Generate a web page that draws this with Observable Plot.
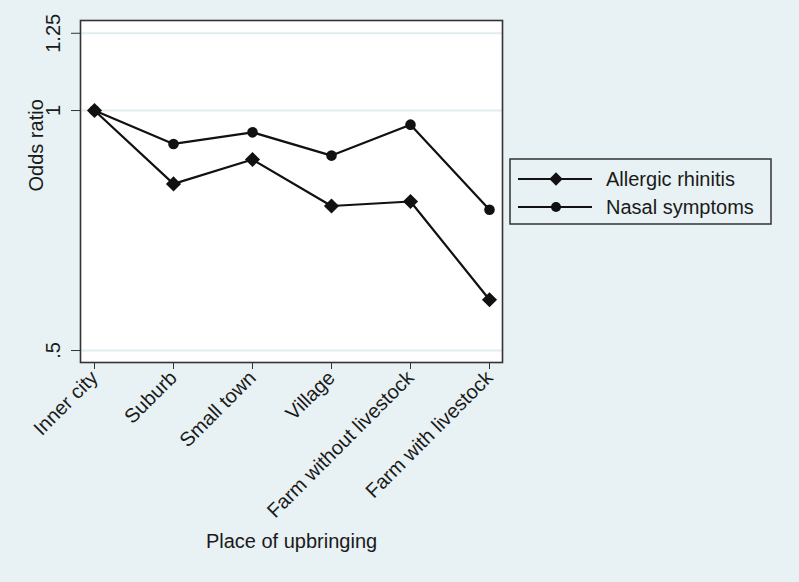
<!DOCTYPE html>
<html>
<head>
<meta charset="utf-8">
<script src="https://cdn.jsdelivr.net/npm/d3@7"></script>
<script src="https://cdn.jsdelivr.net/npm/@observablehq/plot@0.6"></script>
<style>
  html, body { margin: 0; padding: 0; background: #e8f1f3; }
  #wrap { position: relative; width: 799px; height: 582px; background: #e8f1f3; overflow: hidden; }
  #wrap svg { position: absolute; left: 0; top: 0; }
</style>
</head>
<body>
<div id="wrap"></div>
<script>
const categories = ["Inner city", "Suburb", "Small town", "Village", "Farm without livestock", "Farm with livestock"];
const allergicRhinitis = [1.0, 0.809, 0.868, 0.759, 0.769, 0.579];
const nasalSymptoms = [1.0, 0.908, 0.939, 0.878, 0.960, 0.751];
const seriesNames = ["Allergic rhinitis", "Nasal symptoms"];
const seriesSymbols = ["diamond2", "circle"];
const yTicks = [0.5, 1, 1.25];
const yTickLabels = [".5", "1", "1.25"];
const xTitle = "Place of upbringing";
const yTitle = "Odds ratio";

const rows = [];
categories.forEach((c, i) => {
  rows.push({cat: c, series: seriesNames[0], v: allergicRhinitis[i]});
  rows.push({cat: c, series: seriesNames[1], v: nasalSymptoms[i]});
});
const ink = "#111";
const textInk = "#1a1a1a";
const font = "'Liberation Sans', Arial, Helvetica, sans-serif";

const chart = Plot.plot({
  width: 799,
  height: 582,
  marginLeft: 80,
  marginRight: 297,
  marginTop: 20,
  marginBottom: 220,
  style: {background: "transparent", fontFamily: font, fontSize: "20px", color: textInk},
  x: {type: "point", domain: categories, padding: 0.16},
  y: {type: "log", domain: [0.483, 1.297]},
  marks: [
    Plot.frame({fill: "white", stroke: null}),
    Plot.gridY(yTicks, {stroke: "#e1ecef", strokeOpacity: 1, strokeWidth: 2}),
    Plot.lineY(rows, {x: "cat", y: "v", z: "series", stroke: ink, strokeWidth: 2.2}),
    Plot.dot(rows.filter(d => d.series === seriesNames[0]), {x: "cat", y: "v", symbol: seriesSymbols[0], r: 6.8, fill: ink, stroke: null}),
    Plot.dot(rows.filter(d => d.series === seriesNames[1]), {x: "cat", y: "v", symbol: seriesSymbols[1], r: 5.3, fill: ink, stroke: null}),
    Plot.frame({stroke: "#333", strokeWidth: 1.6}),
    Plot.axisY(yTicks, {
      tickFormat: d => yTickLabels[yTicks.indexOf(d)],
      tickRotate: -90, tickSize: 9, tickPadding: 12, fontSize: 20, label: null, stroke: "#333", fill: textInk
    }),
    Plot.axisX({tickRotate: -45, tickSize: 7, tickPadding: 5, fontSize: 20, label: null, stroke: "#333", fill: textInk}),
    Plot.text([yTitle], {frameAnchor: "left", dx: -44, rotate: -90, fontSize: 20, fill: textInk}),
    Plot.text([xTitle], {frameAnchor: "bottom", dy: 185, fontSize: 20, fill: textInk})
  ]
});
document.getElementById("wrap").appendChild(chart);

// Legend
const lg = d3.select("#wrap").append("svg")
  .attr("width", 264).attr("height", 68)
  .style("left", "509px").style("top", "158px");
lg.append("rect").attr("x", 1).attr("y", 1).attr("width", 261).attr("height", 65)
  .attr("fill", "none").attr("stroke", "#333").attr("stroke-width", 1.5);
seriesNames.forEach((name, i) => {
  const cy = 21 + i * 28;
  const g = lg.append("g");
  g.append("line").attr("x1", 9).attr("x2", 83).attr("y1", cy).attr("y2", cy)
    .attr("stroke", ink).attr("stroke-width", 2.2);
  const sym = seriesSymbols[i] === "circle" ? d3.symbolCircle : d3.symbolDiamond2;
  const sz = seriesSymbols[i] === "circle" ? Math.PI * 5 * 5 : Math.PI * 6 * 6;
  g.append("path").attr("d", d3.symbol(sym, sz)()).attr("transform", `translate(47,${cy})`).attr("fill", ink);
  g.append("text").attr("x", 97).attr("y", cy).attr("dy", "0.35em")
    .attr("font-family", font).attr("font-size", 20).attr("fill", textInk).text(name);
});
</script>
</body>
</html>
